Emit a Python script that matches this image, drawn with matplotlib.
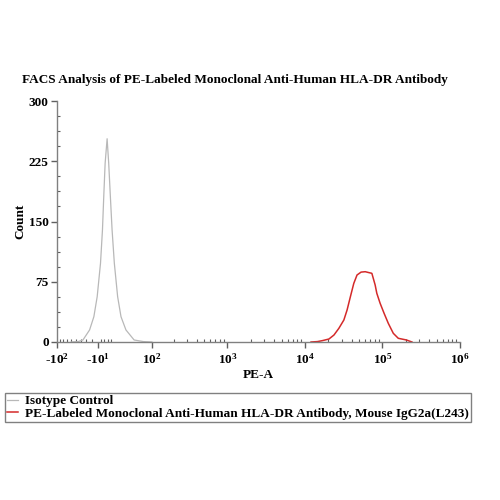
import numpy as np
import matplotlib
matplotlib.use("Agg")
import matplotlib.pyplot as plt
from matplotlib.ticker import FixedLocator, AutoMinorLocator

# ---- data ----
iso_x = [-60, -45, -35.5, -23.7, -16.6, -11.3, -6.1, -3.06, -1.07, 1.07, 4.13,
         6.6, 9.2, 11.9, 15.5, 20.9, 26.6, 35.5, 52, 75, 100]
iso_y = [0, 0.5, 2.5, 15, 31.5, 56.4, 98, 139.5, 181, 222.5, 253,
         222.5, 181, 139.5, 98, 56.4, 31.5, 15, 2.5, 0.5, 0]

pe_x = [12000, 14500, 16800, 20400, 23700, 27400, 31800, 35000, 38600, 42700,
        47000, 53000, 60000, 66000, 73000, 80500, 84600, 93300, 105000, 119000,
        138000, 160000, 204000, 240000]
pe_y = [0, 0.5, 1.7, 3.7, 8.7, 17, 27.4, 39.9, 56.4, 73,
        83.4, 87, 87.5, 86.5, 85.5, 71, 60.6, 48.2, 35.7, 23.2,
        10.8, 4.6, 2.5, 0]

xtick_vals = [-100, -10, 100, 1000, 10000, 100000, 1000000]
xtick_labels = [r'-$\mathbf{10^{2}}$', r'-$\mathbf{10^{1}}$', r'$\mathbf{10^{2}}$',
                r'$\mathbf{10^{3}}$', r'$\mathbf{10^{4}}$', r'$\mathbf{10^{5}}$',
                r'$\mathbf{10^{6}}$']
ytick_vals = [0, 75, 150, 225, 300]

series_labels = ["Isotype Control",
                 "PE-Labeled Monoclonal Anti-Human HLA-DR Antibody, Mouse IgG2a(L243)"]
title = "FACS Analysis of PE-Labeled Monoclonal Anti-Human HLA-DR Antibody"

# ---- styling ----
plt.rcParams['font.family'] = ['Liberation Serif', 'DejaVu Serif']
plt.rcParams['font.weight'] = 'bold'
plt.rcParams['axes.unicode_minus'] = False
plt.rcParams['mathtext.fontset'] = 'custom'
plt.rcParams['mathtext.rm'] = 'Liberation Serif'
plt.rcParams['mathtext.bf'] = 'Liberation Serif:bold'

C = 52.0
fwd = lambda x: np.arcsinh(np.asarray(x) / C)
inv = lambda y: C * np.sinh(np.asarray(y))

fig = plt.figure(figsize=(5, 5), dpi=100)
ax = fig.add_axes([0.114, 0.316, 0.806, 0.482])
ax.set_xscale('function', functions=(fwd, inv))

l1, = ax.plot(iso_x, iso_y, color='#b8b8b8', lw=0.9, label=series_labels[0])
l2, = ax.plot(pe_x, pe_y, color='#d42a2a', lw=1.1, label=series_labels[1])

ax.set_xlim(-100, 1e6)
ax.set_ylim(0, 300)

for s in ['top', 'right']:
    ax.spines[s].set_visible(False)
for s in ['left', 'bottom']:
    ax.spines[s].set_color('#808080')
    ax.spines[s].set_linewidth(1.0)

ax.xaxis.set_major_locator(FixedLocator(xtick_vals))
ax.set_xticklabels(xtick_labels)
minor = []
for d in [100, 1000, 10000, 100000]:
    minor += [k * d for k in range(2, 10)]
minor += [-k * 10 for k in range(2, 10)] + [-5, 0, 5, 10]
ax.xaxis.set_minor_locator(FixedLocator(minor))
ax.tick_params(axis='x', which='major', direction='out', length=4, width=1,
               color='#606060', labelsize=9.5, pad=3)
ax.tick_params(axis='x', which='minor', direction='in', length=2, width=0.8,
               color='#606060')

ax.set_yticks(ytick_vals)
ax.yaxis.set_minor_locator(AutoMinorLocator(4))
ax.tick_params(axis='y', which='major', direction='out', length=4, width=1,
               color='#606060', labelsize=9.5, pad=2)
ax.tick_params(axis='y', which='minor', direction='in', length=2, width=0.8,
               color='#606060')
for t in ax.get_yticklabels() + ax.get_xticklabels():
    t.set_fontweight('bold')

ax.set_xlabel("PE-A", fontsize=9.5, fontweight='bold', labelpad=2)
ax.set_ylabel("Count", fontsize=9.5, fontweight='bold', labelpad=2)

fig.text(0.47, 0.84, title, ha='center', va='center', fontsize=9.5,
         fontweight='bold')

leg = fig.legend(handles=[l1, l2], loc='upper left',
                 bbox_to_anchor=(0.01, 0.214), frameon=True, fancybox=False,
                 edgecolor='#606060', handlelength=0.8, handletextpad=0.6,
                 borderpad=0.15, labelspacing=0.05, borderaxespad=0,
                 prop={'family': 'Liberation Serif', 'weight': 'bold', 'size': 9.5})
leg.get_frame().set_linewidth(1.0)

fig.savefig("out.png", dpi=100)
